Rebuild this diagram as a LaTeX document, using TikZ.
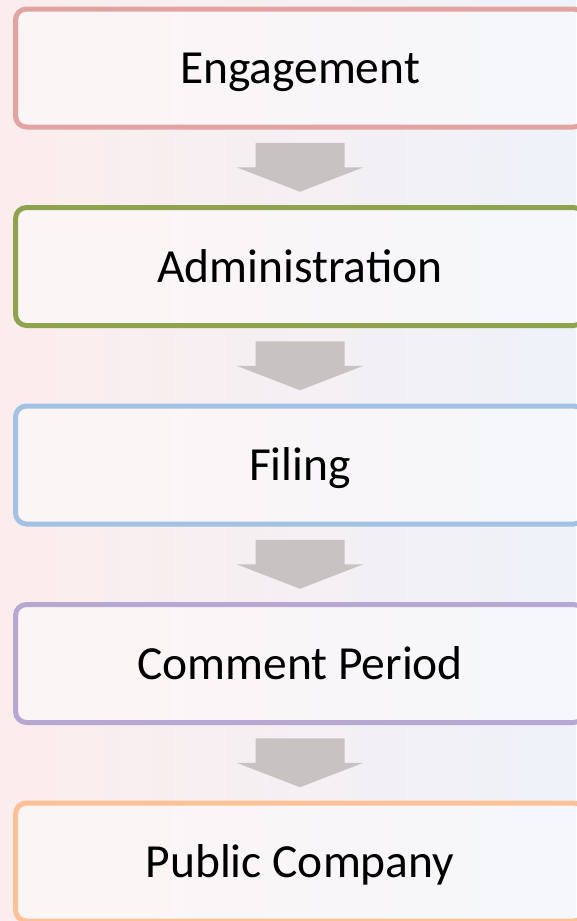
\documentclass[tikz,border=0pt]{standalone}
\usepackage{fontspec}
\setmainfont{Carlito}

\definecolor{engred}{HTML}{E3A3A3}
\definecolor{admgreen}{HTML}{8FA24E}
\definecolor{filblue}{HTML}{A3C1E3}
\definecolor{compurple}{HTML}{B6A8D2}
\definecolor{puborange}{HTML}{FDC197}
\definecolor{arrowgray}{HTML}{C9C2C3}
\definecolor{bgpink}{HTML}{FCEDED}
\definecolor{bgblue}{HTML}{EEF2F9}

\begin{document}
\begin{tikzpicture}[x=1pt, y=1pt, node distance=198.5pt]
        \tikzstyle{stage} = [rectangle, rounded corners=11pt, minimum width=569pt, minimum height=118pt, line width=5pt, fill=white, fill opacity=0.45, text opacity=1, text height=31pt, text depth=0pt, font=\fontsize{47.5}{52}\selectfont, text centered]
        \tikzstyle{downarrow} = [fill=arrowgray]

        \shade[left color=bgpink, right color=bgblue] (0,0) rectangle (576,-921);
        \useasboundingbox (0,0) rectangle (576,-921);

        \node (engage) [stage, draw=engred] at (300,-68) {Engagement};
        \node (admin) [stage, draw=admgreen, below of=engage] {Administration};
        \node (filing) [stage, draw=filblue, below of=admin] {Filing};
        \node (comment) [stage, draw=compurple, below of=filing] {Comment Period};
        \node (public) [stage, draw=puborange, below of=comment] {Public Company};

        % block arrows between the stages
        \foreach \from/\to in {engage/admin, admin/filing, filing/comment, comment/public} {
            \path (\from) -- coordinate[midway] (mid) (\to);
            \fill [downarrow] ([shift={(-44.5,24.5)}]mid) -- ([shift={(44.5,24.5)}]mid)
                -- ([shift={(44.5,0)}]mid) -- ([shift={(63.5,0)}]mid)
                -- ([shift={(0,-24.5)}]mid) -- ([shift={(-63.5,0)}]mid)
                -- ([shift={(-44.5,0)}]mid) -- cycle;
        }
    \end{tikzpicture}
\end{document}
